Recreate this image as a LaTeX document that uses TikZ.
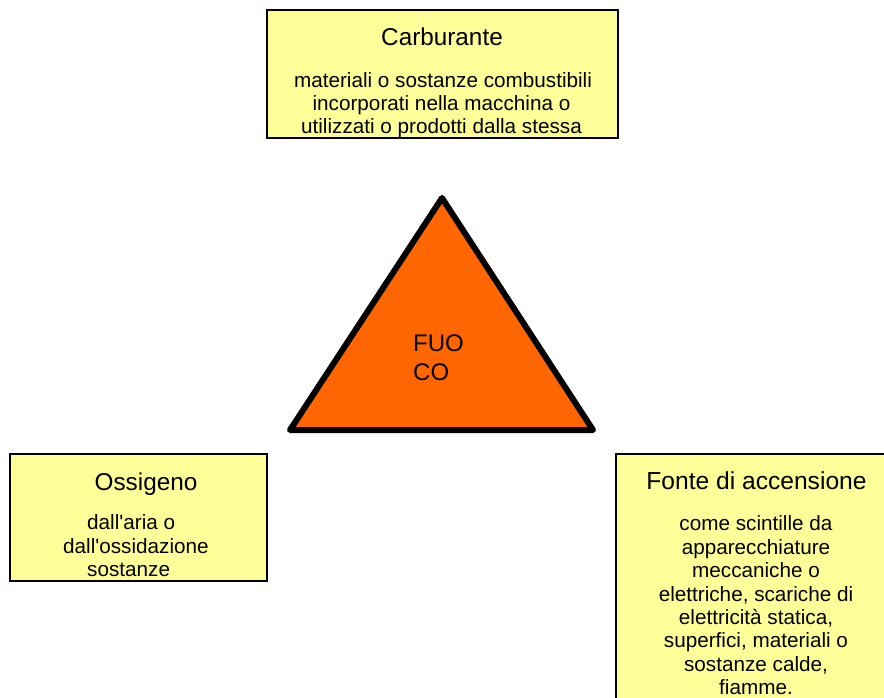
\documentclass[tikz,border=0pt]{standalone}
\usepackage{fontspec}
\setmainfont{Liberation Sans}[Ligatures=TeXOff]
\definecolor{boxyellow}{HTML}{FFFF99}
\definecolor{fireorange}{HTML}{FF6600}
\tikzset{
  infobox/.style={draw=black, line width=1.4pt, fill=boxyellow, inner sep=0pt},
  titletext/.style={anchor=base, inner sep=0pt, font=\fontsize{24.3}{28}\selectfont},
  bodytext/.style={anchor=base, inner sep=0pt, font=\fontsize{20.7}{23.5}\selectfont},
  firetext/.style={anchor=base west, inner sep=0pt, font=\fontsize{24}{28}\selectfont},
  triangle/.style={draw=black, fill=fireorange, line width=6pt, line join=round}
}
\begin{document}
\begin{tikzpicture}[x=1pt,y=-1pt]
\useasboundingbox (0,0) rectangle (884,697);
\clip (0,0) rectangle (884,697);
% boxes
\node[infobox, minimum width=351pt, minimum height=128pt] (carb) at (442.5,74) {};
\node[infobox, minimum width=257pt, minimum height=127pt] (oss) at (138.5,517.5) {};
\node[infobox, minimum width=280pt, minimum height=260pt] (fonte) at (756,584) {};
% triangle
\coordinate (apex) at (442,198);
\coordinate (bl) at (290,430);
\coordinate (br) at (593,430);
\draw[triangle] (apex) -- (bl) -- (br) -- cycle;
\node[firetext] (fuo) at (413,351) {FUO};
\node[firetext] (co) at (413,380) {CO};
% Carburante
\node[titletext] (carbt) at (442,45) {Carburante};
\node[bodytext] (carb1) at (443,87) {materiali o sostanze combustibili};
\node[bodytext] (carb2) at (441.5,110) {incorporati nella macchina o};
\node[bodytext] (carb3) at (441.5,133) {utilizzati o prodotti dalla stessa};
% Ossigeno
\node[titletext] (osst) at (146,490) {Ossigeno};
\node[bodytext, anchor=base west] (oss1) at (87,529) {dall'aria o};
\node[bodytext, anchor=base west] (oss2) at (63,553) {dall'ossidazione};
\node[bodytext, anchor=base west] (oss3) at (87,576) {sostanze};
% Fonte di accensione
\node[titletext, font=\fontsize{24.6}{28}\selectfont] (fontet) at (756.5,489) {Fonte di accensione};
\node[bodytext] (f1) at (756,530) {come scintille da};
\node[bodytext] (f2) at (756,554) {apparecchiature};
\node[bodytext] (f3) at (756,577) {meccaniche o};
\node[bodytext] (f4) at (756,601) {elettriche, scariche di};
\node[bodytext] (f5) at (756,624) {elettricità statica,};
\node[bodytext] (f6) at (756,647) {superfici, materiali o};
\node[bodytext] (f7) at (756,671) {sostanze calde,};
\node[bodytext] (f8) at (756,694) {fiamme.};
\end{tikzpicture}
\end{document}
